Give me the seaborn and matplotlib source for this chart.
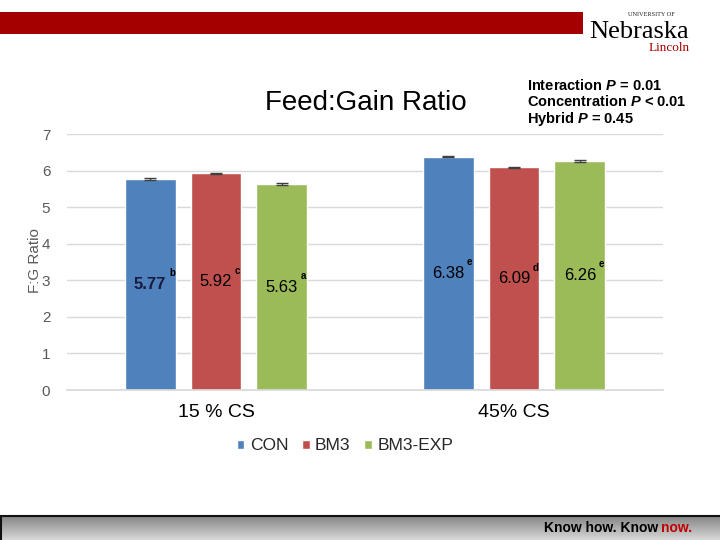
import numpy as np
import pandas as pd
import matplotlib
matplotlib.use("Agg")
import matplotlib.pyplot as plt
from matplotlib.patches import Rectangle
import seaborn as sns

# ---- data ----
concentrations = ["15 % CS", "45% CS"]
hybrids = ["CON", "BM3", "BM3-EXP"]
fg_15 = [5.77, 5.92, 5.63]
fg_45 = [6.38, 6.09, 6.26]
sem_15 = [0.02, 0.02, 0.02]
sem_45 = [0.02, 0.02, 0.02]
letters_15 = ["b", "c", "a"]
letters_45 = ["e", "d", "e"]
yticks = [0, 1, 2, 3, 4, 5, 6, 7]
colors = ["#4F81BD", "#C0504D", "#9BBB59"]

df = pd.DataFrame({
    "conc": [concentrations[0]] * 3 + [concentrations[1]] * 3,
    "hybrid": hybrids + hybrids,
    "fg": fg_15 + fg_45,
    "sem": sem_15 + sem_45,
    "letter": letters_15 + letters_45,
})

sns.set_theme(style="white")
plt.rcParams["font.family"] = ["Liberation Sans", "DejaVu Sans"]
plt.rcParams["mathtext.fontset"] = "custom"
plt.rcParams["mathtext.it"] = "Liberation Sans:italic:bold"
plt.rcParams["mathtext.rm"] = "Liberation Sans:bold"

W, H = 720, 540
fig = plt.figure(figsize=(7.2, 5.4), dpi=100)
fig.patch.set_facecolor("white")

# ---- decorations (banner, bottom bar) ----
deco = fig.add_axes([0, 0, 1, 1], zorder=-1)
deco.axis("off")
deco.add_patch(Rectangle((0, 12), 583, 22, color="#A50000", lw=0))
grad = np.linspace(0, 1, 50).reshape(-1, 1)
deco.imshow(grad, cmap=matplotlib.colors.LinearSegmentedColormap.from_list(
    "g", ["#858585", "#d8d8d8"]), extent=(0, W, 540, 516), aspect="auto", zorder=0)
deco.set_xlim(0, W)
deco.set_ylim(H, 0)
deco.plot([0, W], [516, 516], color="#111111", lw=1.5)
deco.plot([0.5, 0.5], [516, 540], color="#111111", lw=1.5)

# logo
fig.text(651 / W, 1 - 14 / H, "UNIVERSITY OF", fontsize=4.5, family="Liberation Serif",
         ha="center", va="center", color="#222222")
fig.text(639 / W, 1 - 38 / H, "Nebraska", fontsize=19, family="Liberation Serif",
         ha="center", va="baseline", color="black")
fig.text(690 / W, 1 - 48 / H, "Lincoln", fontsize=9.5, family="Liberation Serif",
         ha="right", va="center", color="#A50000")

# footer text
t_now = fig.text(692 / W, 1 - 528 / H, "now.", fontsize=10, fontweight="bold",
                 color="#C00000", ha="right", va="center")
know = fig.text(692 / W, 1 - 528 / H, "Know how. Know", fontsize=10,
                fontweight="bold", color="black", ha="right", va="center")
fig.canvas.draw()
bb = t_now.get_window_extent()
know.set_position(((bb.x0 - 3) / W, 1 - 528 / H))

# ---- main chart ----
ax = fig.add_axes([67 / W, 1 - 390 / H, (663 - 67) / W, (390 - 134) / H])
sns.barplot(data=df, x="conc", y="fg", hue="hybrid", palette=colors,
            order=concentrations, hue_order=hybrids, width=0.664, gap=0.227,
            errorbar=None, saturation=1, ax=ax)

ax.set_ylim(0, 7)
ax.set_xlim(-0.5, 1.5)
ax.set_yticks(yticks)
ax.yaxis.grid(True, color="#d9d9d9", lw=1)
ax.set_axisbelow(True)
for s in ["top", "right", "left"]:
    ax.spines[s].set_visible(False)
ax.spines["bottom"].set_color("#d9d9d9")
ax.tick_params(axis="y", length=0, labelsize=11, labelcolor="#595959", pad=12)
ax.tick_params(axis="x", length=0, labelsize=14, labelcolor="black", pad=10)
ax.set_xlabel("")
ax.set_ylabel("")

# error bars, value labels and letters
bar_containers = list(ax.containers)
for hi, cont in enumerate(bar_containers):
    sub = df[df["hybrid"] == hybrids[hi]].set_index("conc").loc[concentrations]
    for bar, val, err, let in zip(cont.patches, sub["fg"], sub["sem"], sub["letter"]):
        cx = bar.get_x() + bar.get_width() / 2
        ax.errorbar(cx, val, yerr=err, color="#404040", capsize=4, lw=1, capthick=1)
        bold = (hi == 0 and let == "b")
        t = ax.text(cx, val / 2, f"{val:.2f}", ha="center", va="center",
                    fontsize=12, fontweight="bold" if bold else "normal",
                    color="#1a1a40" if bold else "black")
        ax.annotate(let, xy=(1, 1), xycoords=t, xytext=(2, -1),
                    textcoords="offset points", ha="left", va="bottom",
                    fontsize=7, fontweight="bold", color="black")

# legend
handles, labels = ax.get_legend_handles_labels()
if ax.get_legend() is not None:
    ax.get_legend().remove()
fig.legend(handles, labels, loc="center", bbox_to_anchor=(345 / W, 1 - 446 / H),
           ncol=3, frameon=False, fontsize=12.5, handlelength=0.45,
           handleheight=0.45, handletextpad=0.3, columnspacing=0.8)

# y label
fig.text(35 / W, 1 - 261 / H, "F:G Ratio", rotation=90, ha="center", va="center",
         fontsize=11, color="#595959")

# title
fig.text(366 / W, 1 - 103 / H, "Feed:Gain Ratio", ha="center", va="center",
         fontsize=20, color="black")

# statistics
stats = ["Interaction $P$ = 0.01", "Concentration $P$ < 0.01", "Hybrid $P$ = 0.45"]
for i, s in enumerate(stats):
    fig.text(527 / W, 1 - (85 + 17 * i) / H, s, ha="left", va="center",
             fontsize=10.5, fontweight="bold", color="black")

fig.savefig("out.png", dpi=100)
